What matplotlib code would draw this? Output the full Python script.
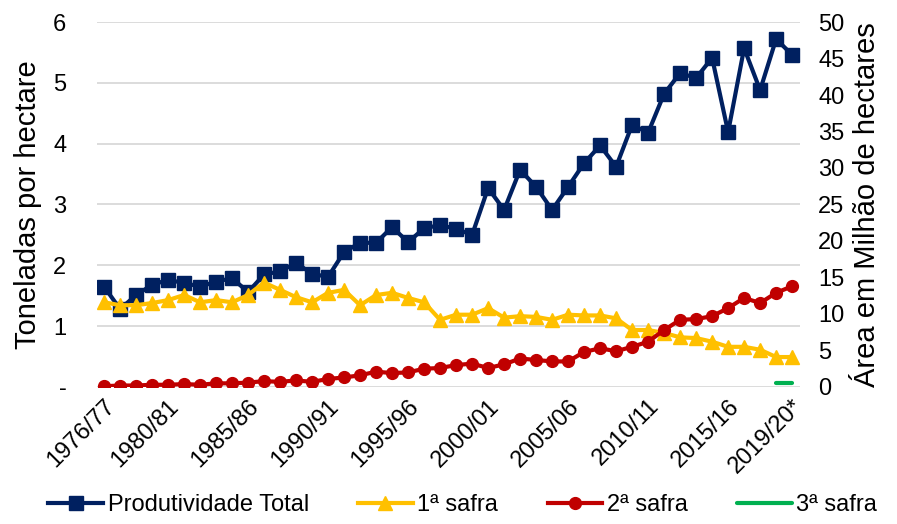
import numpy as np
import matplotlib
matplotlib.use('Agg')
import matplotlib.pyplot as plt
from matplotlib.ticker import FuncFormatter

plt.rcParams['font.family'] = ['Liberation Sans', 'DejaVu Sans']

# ─── Data ────────────────────────────────────────────────────────────────────
safras = [f"{y}/{str(y + 1)[-2:]}" for y in range(1976, 2020)]
safras[-1] = "2019/20*"
label_idx = [0, 4, 9, 14, 19, 24, 29, 34, 39, 43]

# t/ha (left axis)
produtividade = [1.65, 1.28, 1.51, 1.68, 1.76, 1.71, 1.65, 1.73, 1.79, 1.56,
                 1.85, 1.90, 2.04, 1.86, 1.81, 2.22, 2.37, 2.37, 2.63, 2.38,
                 2.61, 2.66, 2.60, 2.50, 3.27, 2.91, 3.57, 3.29, 2.91, 3.29,
                 3.68, 3.97, 3.62, 4.31, 4.18, 4.82, 5.16, 5.08, 5.41, 4.19,
                 5.57, 4.88, 5.72, 5.46]

# million ha (right axis)
safra1 = [11.6, 11.2, 11.2, 11.5, 11.9, 12.6, 11.6, 11.9, 11.6, 12.6,
          14.3, 13.3, 12.3, 11.6, 12.9, 13.3, 11.2, 12.6, 12.9, 12.2,
          11.6, 9.2, 9.9, 9.9, 10.8, 9.5, 9.7, 9.6, 9.2, 9.9,
          9.8, 9.8, 9.4, 7.8, 7.8, 7.4, 6.8, 6.7, 6.2, 5.5,
          5.5, 5.1, 4.1, 4.1]
safra2 = [0.1, 0.2, 0.2, 0.3, 0.3, 0.4, 0.3, 0.5, 0.5, 0.6,
          0.8, 0.7, 0.9, 0.7, 1.1, 1.3, 1.6, 2.1, 1.9, 2.0,
          2.5, 2.6, 3.0, 3.2, 2.6, 3.1, 3.9, 3.7, 3.5, 3.5,
          4.8, 5.3, 4.9, 5.5, 6.2, 7.8, 9.2, 9.3, 9.7, 10.8,
          12.2, 11.5, 12.9, 13.8]
safra3_idx = [42, 43]
safra3 = [0.6, 0.6]

NAVY, YELLOW, RED, GREEN = '#002060', '#FFC000', '#C00000', '#00B050'
GRID = '#D9D9D9'

x = np.arange(len(safras))

# ─── Plot ────────────────────────────────────────────────────────────────────
fig = plt.figure(figsize=(8.97, 5.24), dpi=100)
ax = fig.add_axes([0.108, 0.2615, 0.784, 0.6965])
ax2 = ax.twinx()

l0, = ax.plot(x, produtividade, color=NAVY, lw=3, marker='s', ms=9.5,
              label='Produtividade Total')
l1, = ax2.plot(x, safra1, color=YELLOW, lw=3, marker='^', ms=10,
               label='1ª safra')
l2, = ax2.plot(x, safra2, color=RED, lw=3, marker='o', ms=8.5,
               label='2ª safra')
l3, = ax2.plot(safra3_idx, safra3, color=GREEN, lw=3, solid_capstyle='round',
               label='3ª safra')

ax.set_xlim(-0.45, 43.5)
ax.set_ylim(0, 6)
ax2.set_ylim(0, 50)
ax.set_yticks(range(0, 7))
ax2.set_yticks(range(0, 51, 5))
ax.yaxis.set_major_formatter(FuncFormatter(lambda v, p: '-' if v == 0 else f'{v:.0f}'))

ax.grid(axis='y', color=GRID, lw=1.3)
ax.set_axisbelow(True)
for a in (ax, ax2):
    for s in a.spines.values():
        s.set_visible(False)
ax.tick_params(axis='both', length=0, labelsize=17)
ax.tick_params(axis='y', pad=22)
ax2.tick_params(axis='y', length=0, labelsize=17, pad=13)

ax.set_xticks([x[i] for i in label_idx])
ax.set_xticklabels([safras[i] for i in label_idx], rotation=45, ha='right',
                   rotation_mode='anchor')
ax.tick_params(axis='x', pad=6)

ax.set_ylabel('Toneladas por hectare', fontsize=21, labelpad=8)
ax2.set_ylabel('Área em Milhão de hectares', fontsize=21, labelpad=6)

fig.legend(handles=[l0, l1, l2, l3], loc='center', bbox_to_anchor=(0.516, 0.036),
           ncol=4, frameon=False, fontsize=17, handlelength=2.3,
           handletextpad=0.2, columnspacing=2.1)

plt.savefig('out.png', dpi=100)
